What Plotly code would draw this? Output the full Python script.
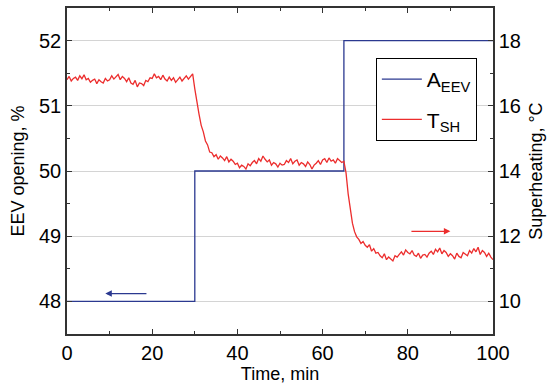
import plotly.graph_objects as go

# A_EEV step data (EEV opening, %)
eev_time = [0, 30, 65, 100]
eev_opening = [48, 50, 52, 52]

# T_SH superheating (°C), sampled every 0.5 min from 0 to 100
sh_step = 0.5
sh_values = [
    16.80, 16.90, 16.76, 16.84, 16.88, 16.78, 16.92, 16.83, 16.95, 16.80,
    16.84, 16.72, 16.78, 16.82, 16.68, 16.80, 16.74, 16.70, 16.84, 16.76,
    16.80, 16.92, 16.82, 16.88, 16.96, 16.80, 16.90, 16.84, 16.74, 16.86,
    16.70, 16.66, 16.78, 16.58, 16.70, 16.68, 16.62, 16.78, 16.74, 16.86,
    16.84, 16.98, 16.86, 16.90, 16.80, 16.94, 16.82, 16.76, 16.88, 16.78,
    16.86, 16.72, 16.80, 16.88, 16.76, 16.84, 16.92, 16.82, 16.90, 16.98,
    16.52, 16.08, 15.74, 15.40, 15.20, 14.92, 14.80, 14.58, 14.56, 14.44,
    14.50, 14.36, 14.46, 14.40, 14.32, 14.44, 14.28, 14.36, 14.30, 14.20,
    14.24, 14.10, 14.18, 14.14, 14.06, 14.22, 14.16, 14.26, 14.32, 14.22,
    14.38, 14.30, 14.46, 14.36, 14.28, 14.34, 14.18, 14.26, 14.22, 14.12,
    14.24, 14.18, 14.20, 14.32, 14.26, 14.38, 14.22, 14.30, 14.34, 14.18,
    14.26, 14.22, 14.14, 14.28, 14.20, 14.06, 14.18, 14.24, 14.32, 14.20,
    14.34, 14.38, 14.26, 14.40, 14.30, 14.34, 14.24, 14.38, 14.32, 14.26,
    14.30, 13.94, 13.30, 12.78, 12.40, 12.14, 11.98, 11.90, 11.78, 11.84,
    11.72, 11.66, 11.74, 11.54, 11.62, 11.48, 11.50, 11.40, 11.34, 11.46,
    11.28, 11.36, 11.30, 11.24, 11.40, 11.36, 11.44, 11.52, 11.42, 11.58,
    11.50, 11.46, 11.56, 11.42, 11.38, 11.48, 11.32, 11.42, 11.44, 11.36,
    11.48, 11.54, 11.44, 11.60, 11.52, 11.64, 11.46, 11.56, 11.50, 11.38,
    11.46, 11.40, 11.30, 11.48, 11.38, 11.34, 11.50, 11.44, 11.40, 11.56,
    11.48, 11.62, 11.52, 11.66, 11.44, 11.56, 11.50, 11.38, 11.48, 11.36,
    11.28,
]
sh_time = [i * sh_step for i in range(len(sh_values))]

x_ticks = [0, 20, 40, 60, 80, 100]
y_ticks = [48, 49, 50, 51, 52]
y2_ticks = [10, 12, 14, 16, 18]

BLUE = "#2b3990"
RED = "#ec2d2d"
AXIS = "#333333"
FONT = "Liberation Sans, Arial, sans-serif"

fig = go.Figure()
fig.add_trace(go.Scatter(
    x=eev_time, y=eev_opening, mode="lines", line_shape="hv",
    line=dict(color=BLUE, width=1.3), name="A<sub>EEV</sub>", yaxis="y",
    legendgroup="a",
))
fig.add_trace(go.Scatter(
    x=sh_time, y=sh_values, mode="lines",
    line=dict(color=RED, width=1.3), name="T<sub>SH</sub>", yaxis="y2",
    legendgroup="b",
))

# direction arrows
fig.add_annotation(x=9, y=48.12, ax=19, ay=48.12, xref="x", yref="y",
                   axref="x", ayref="y", text="", showarrow=True,
                   arrowhead=2, arrowsize=1, arrowwidth=1.3, arrowcolor=BLUE)
fig.add_annotation(x=90, y=12.15, ax=80.5, ay=12.15, xref="x", yref="y2",
                   axref="x", ayref="y2", text="", showarrow=True,
                   arrowhead=2, arrowsize=1, arrowwidth=1.3, arrowcolor=RED)

fig.update_layout(
    width=550, height=385,
    margin=dict(l=67, r=57, t=8, b=51),
    paper_bgcolor="white", plot_bgcolor="white",
    font=dict(family=FONT, size=18, color="black"),
    showlegend=True,
    legend=dict(x=0.725, y=0.847, xanchor="left", yanchor="top",
                bordercolor="black", borderwidth=1, bgcolor="white",
                font=dict(size=21), tracegroupgap=10,
                itemwidth=40),
    xaxis=dict(
        range=[0, 100], tickvals=x_ticks, ticks="inside", ticklen=5,
        tickcolor=AXIS, showline=True, linecolor=AXIS, linewidth=1.5,
        mirror="ticks", showgrid=False, zeroline=False, automargin=False,
        minor=dict(ticks="inside", dtick=10, ticklen=3, tickcolor=AXIS, showgrid=False),
        title=dict(text="Time, min", font=dict(size=18), standoff=1),
        tickfont=dict(size=20),
    ),
    yaxis=dict(
        range=[47.5, 52.5], tickvals=y_ticks, ticks="inside", ticklen=5,
        tickcolor=AXIS, showline=True, linecolor=AXIS, linewidth=1.5,
        showgrid=True, gridcolor="#d4d4d4", gridwidth=1, zeroline=False,
        automargin=False,
        minor=dict(ticks="inside", dtick=0.5, ticklen=3, tickcolor=AXIS, showgrid=False),
        title=dict(text="EEV opening, %", font=dict(size=18), standoff=10),
        tickfont=dict(size=20),
    ),
    yaxis2=dict(
        range=[9, 19], tickvals=y2_ticks, ticks="inside", ticklen=5,
        tickcolor=AXIS, showline=True, linecolor=AXIS, linewidth=1.5,
        overlaying="y", side="right", showgrid=False, zeroline=False,
        automargin=False,
        minor=dict(ticks="inside", dtick=1, ticklen=3, tickcolor=AXIS, showgrid=False),
        title=dict(text="Superheating, °C", font=dict(size=18), standoff=9),
        tickfont=dict(size=20),
    ),
)

fig.write_html("out.html", config={"displayModeBar": False},
               post_script="document.body.style.margin='0px';")
